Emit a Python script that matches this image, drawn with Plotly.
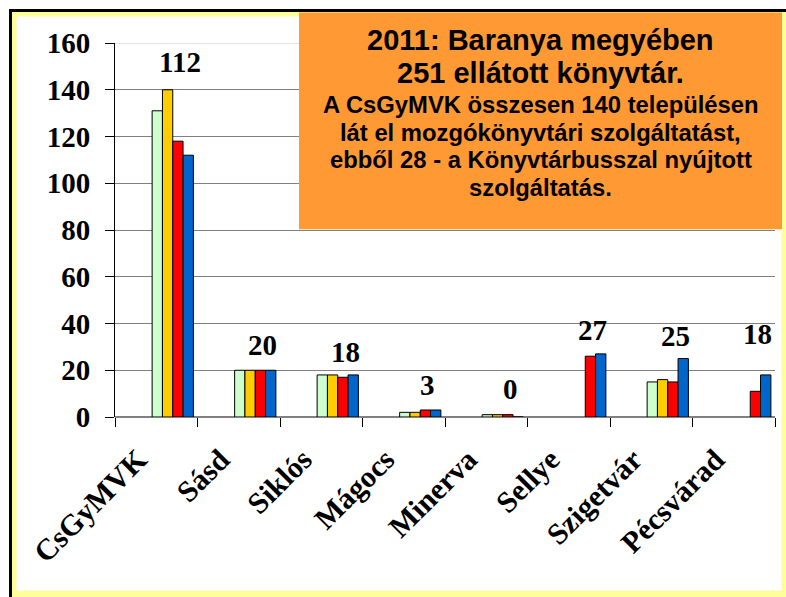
import plotly.graph_objects as go

# ---------------- data ----------------
categories = ["CsGyMVK", "Sásd", "Siklós", "Mágocs", "Minerva", "Sellye", "Szigetvár", "Pécsvárad"]
series_names = ["2008", "2009", "2010", "2011"]
s2008 = [131, 20, 18, 2, 1, None, 15, None]
s2009 = [140, 20, 18, 2, 1, None, 16, None]
s2010 = [118, 20, 17, 3, 1, 26, 15, 11]
s2011 = [112, 20, 18, 3, 0, 27, 25, 18]
y_ticks = [0, 20, 40, 60, 80, 100, 120, 140, 160]

box_title = ["2011: Baranya megyében", "251 ellátott könyvtár."]
box_body = ["A CsGyMVK összesen 140 településen",
            "lát el mozgókönyvtári szolgáltatást,",
            "ebből 28 - a Könyvtárbusszal nyújtott",
            "szolgáltatás."]

# ---------------- layout geometry / styles ----------------
W, H = 786, 597
ML, MR, MT, MB = 115, 11, 43, 180.4
PW = W - ML - MR
PH = H - MT - MB


def px_x(px):
    return (px - ML) / PW


def px_y(py):
    return (H - MB - py) / PH


colors = ["#CCFFCC", "#FFCC00", "#FF0000", "#0066CC"]
offsets = [-0.05, 0.075, 0.2, 0.325]
bar_w = 0.125
serif = "Liberation Serif, Times New Roman, serif"
sans = "Liberation Sans, Arial, sans-serif"

fig = go.Figure()
for name, vals, col, off in zip(series_names, [s2008, s2009, s2010, s2011], colors, offsets):
    fig.add_trace(go.Bar(
        x=categories, y=vals, name=name,
        marker=dict(color=col, line=dict(color="black", width=1)),
        offset=off, width=bar_w, showlegend=False, hoverinfo="x+y+name",
    ))

# data labels (values of the last series)
label_yshift = [28, 25, 23, 25, 26, 24, 23, 41]
annotations = []
for i, cat in enumerate(categories):
    group = [v for v in (s2008[i], s2009[i], s2010[i], s2011[i]) if v is not None]
    annotations.append(dict(
        x=cat, y=max(group), xref="x", yref="y", text=str(s2011[i]),
        showarrow=False, xshift=24, yshift=label_yshift[i], yanchor="middle",
        font=dict(family=serif, size=29, color="black", weight="bold"),
    ))

# text box lines
title_centers = [40, 73]
body_centers = [104.5, 132, 159.5, 187]
box_cx = (299 + 782) / 2
for txt, cy in zip(box_title, title_centers):
    annotations.append(dict(
        x=px_x(box_cx), y=px_y(cy), xref="paper", yref="paper", text=txt,
        showarrow=False, xanchor="center", yanchor="middle",
        font=dict(family=sans, size=29, color="black", weight="bold"),
    ))
for txt, cy in zip(box_body, body_centers):
    annotations.append(dict(
        x=px_x(box_cx), y=px_y(cy), xref="paper", yref="paper", text=txt,
        showarrow=False, xanchor="center", yanchor="middle",
        font=dict(family=sans, size=23.8, color="black", weight="bold"),
    ))

shapes = [
    # pale yellow band
    dict(type="rect", xref="paper", yref="paper", layer="below",
         x0=px_x(12), x1=px_x(786), y0=px_y(12), y1=px_y(597),
         fillcolor="#FFFF99", line=dict(width=0)),
    # white interior
    dict(type="rect", xref="paper", yref="paper", layer="below",
         x0=px_x(16.5), x1=px_x(781.5), y0=px_y(16.5), y1=px_y(590),
         fillcolor="white", line=dict(width=0)),
    # black outer border (left and top edges)
    dict(type="line", xref="paper", yref="paper", layer="below",
         x0=px_x(10.5), x1=px_x(10.5), y0=px_y(9), y1=px_y(597),
         line=dict(color="black", width=3)),
    dict(type="line", xref="paper", yref="paper", layer="below",
         x0=px_x(9), x1=px_x(786), y0=px_y(10.5), y1=px_y(10.5),
         line=dict(color="black", width=3)),
    # lighter top gridline
    dict(type="line", xref="paper", yref="y", layer="above",
         x0=0, x1=1, y0=160, y1=160, line=dict(color="#D9D9D9", width=1.5)),
    # orange text box
    dict(type="rect", xref="paper", yref="paper", layer="above",
         x0=px_x(299), x1=px_x(782), y0=px_y(12.5), y1=px_y(229),
         fillcolor="#FF9933", line=dict(width=0)),
]

fig.update_layout(
    width=W, height=H,
    margin=dict(l=ML, r=MR, t=MT, b=MB, pad=0, autoexpand=False),
    paper_bgcolor="white", plot_bgcolor="rgba(0,0,0,0)",
    barmode="overlay",
    shapes=shapes, annotations=annotations,
    xaxis=dict(
        type="category", range=[-0.5, 7.5], tickson="boundaries",
        ticks="outside", ticklen=9, tickcolor="black", tickwidth=1,
        showgrid=False, showline=False, zeroline=False,
        tickangle=-45, automargin=False,
        ticklabelstandoff=18, ticklabelshift=-18,
        tickfont=dict(family=serif, size=30, color="black", weight="bold"),
    ),
    yaxis=dict(
        range=[0, 160], tickvals=y_ticks, ticktext=[str(t) for t in y_ticks],
        ticks="outside", ticklen=9, tickcolor="black", tickwidth=1,
        showline=True, linecolor="black", linewidth=1,
        showgrid=True, gridcolor="#808080", gridwidth=1,
        zeroline=True, zerolinecolor="#808080", zerolinewidth=1.5,
        ticklabelstandoff=9, automargin=False,
        tickfont=dict(family=serif, size=29, color="black", weight="bold"),
    ),
)

# remove the default page margin so the 786x597 figure fills the window exactly
fig.write_html(
    "out.html",
    config={"displayModeBar": False},
    post_script="document.body.style.margin='0px';document.body.style.overflow='hidden';",
)
